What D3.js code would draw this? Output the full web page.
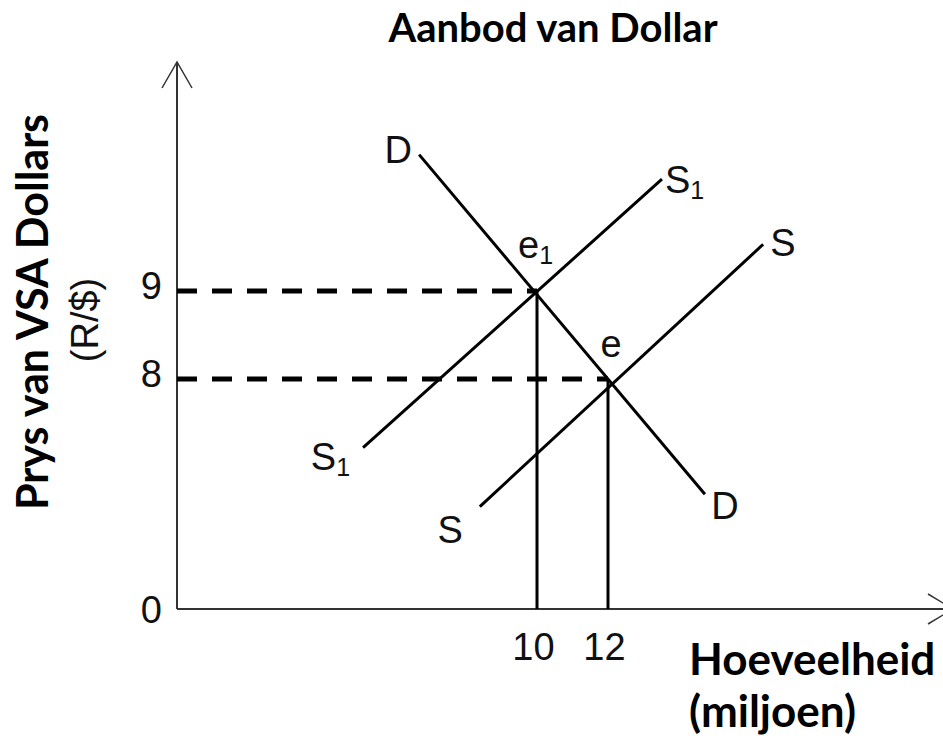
<!DOCTYPE html>
<html>
<head>
<meta charset="utf-8">
<script src="https://cdn.jsdelivr.net/npm/d3@7"></script>
<style>
  body { margin: 0; background: #fff; }
  .lbl { font-family: "Liberation Sans", Arial, sans-serif; font-size: 38px; fill: #111; }
  .ttl { font-family: Lato, "Open Sans", sans-serif; font-weight: 700; fill: #000; }
</style>
</head>
<body>
<div id="chart"></div>
<script>
// Values (price in R/$, quantity in millions)
var priceTicks = [8, 9];
var qtyTicks = [10, 12];
var demand = [{q: 6.68, p: 10.55}, {q: 14.73, p: 6.69}];
var supply1 = [{q: 5.10, p: 7.22}, {q: 13.52, p: 10.27}];
var supply = [{q: 8.39, p: 6.55}, {q: 16.37, p: 9.53}];
var equilibria = [{name: "e", sub: "1", q: 10, p: 9}, {name: "e", sub: "", q: 12, p: 8}];

var width = 943, height = 740;
var origin = {x: 177, y: 609};   // schematic origin (axis break)

var x = d3.scaleLinear().domain([10, 12]).range([537, 608]);
var y = d3.scaleLinear().domain([8, 9]).range([379, 291]);

var svg = d3.select("#chart").append("svg")
    .attr("width", width)
    .attr("height", height);

// axes with open arrow heads
var axes = svg.append("g").attr("stroke", "#333").attr("fill", "none");
axes.append("line")
    .attr("x1", origin.x).attr("y1", origin.y)
    .attr("x2", origin.x).attr("y2", 62)
    .attr("stroke-width", 2);
axes.append("path")
    .attr("d", "M" + (origin.x - 15) + ",88L" + origin.x + ",62L" + (origin.x + 15) + ",88")
    .attr("stroke-width", 1.5);
axes.append("line")
    .attr("x1", origin.x).attr("y1", origin.y)
    .attr("x2", 953).attr("y2", origin.y)
    .attr("stroke-width", 2);
axes.append("path")
    .attr("d", "M928," + (origin.y - 15) + "L953," + origin.y + "L928," + (origin.y + 15))
    .attr("stroke-width", 1.5);

// tick labels
var yAxis = svg.append("g")
    .attr("transform", "translate(" + origin.x + ",0)")
    .call(d3.axisLeft(y).tickValues(priceTicks).tickFormat(d3.format("d"))
        .tickSize(0).tickPadding(15));
var xAxis = svg.append("g")
    .attr("transform", "translate(0," + origin.y + ")")
    .call(d3.axisBottom(x).tickValues(qtyTicks).tickFormat(d3.format("d"))
        .tickSize(0).tickPadding(24));
[yAxis, xAxis].forEach(function(a) {
    a.select(".domain").remove();
    a.selectAll("text")
        .attr("class", "lbl")
        .attr("font-family", null).attr("font-size", null)
        .attr("fill", null);
});
yAxis.selectAll("text").attr("dy", "0.2em");
xAxis.selectAll("text").attr("dx", "-4");

svg.append("text")
    .attr("class", "lbl")
    .attr("x", origin.x - 15)
    .attr("y", origin.y + 14)
    .attr("text-anchor", "end")
    .text("0");

// dashed guides from the price axis, solid drops to the quantity axis
svg.selectAll(".guide")
    .data(equilibria)
    .enter().append("line")
        .attr("class", "guide")
        .attr("x1", origin.x)
        .attr("x2", function(d) { return x(d.q); })
        .attr("y1", function(d) { return y(d.p); })
        .attr("y2", function(d) { return y(d.p); })
        .attr("stroke", "#000")
        .attr("stroke-width", 5)
        .attr("stroke-dasharray", "20,15");

svg.selectAll(".drop")
    .data(equilibria)
    .enter().append("line")
        .attr("class", "drop")
        .attr("x1", function(d) { return x(d.q); })
        .attr("x2", function(d) { return x(d.q); })
        .attr("y1", function(d) { return y(d.p); })
        .attr("y2", origin.y)
        .attr("stroke", "#000")
        .attr("stroke-width", 3);

// curves
var line = d3.line()
    .x(function(d) { return x(d.q); })
    .y(function(d) { return y(d.p); });

var curves = [
    {pts: demand, start: {t: "D", sub: "", dx: -21, dy: 8, anchor: "middle"},
                  end: {t: "D", sub: "", dx: 20, dy: 25, anchor: "middle"}},
    {pts: supply1, start: {t: "S", sub: "1", dx: -13, dy: 22, anchor: "end"},
                   end: {t: "S", sub: "1", dx: 3, dy: 14, anchor: "start"}},
    {pts: supply, start: {t: "S", sub: "", dx: -17, dy: 36, anchor: "end"},
                  end: {t: "S", sub: "", dx: 7, dy: 12, anchor: "start"}}
];

svg.selectAll(".curve")
    .data(curves)
    .enter().append("path")
        .attr("class", "curve")
        .attr("d", function(d) { return line(d.pts); })
        .attr("fill", "none")
        .attr("stroke", "#000")
        .attr("stroke-width", 3);

function addLabel(px, py, l) {
    var t = svg.append("text")
        .attr("class", "lbl")
        .attr("x", px + l.dx)
        .attr("y", py + l.dy)
        .attr("text-anchor", l.anchor);
    t.append("tspan").text(l.t);
    if (l.sub) {
        t.append("tspan")
            .attr("font-size", "25px")
            .attr("dy", 6)
            .text(l.sub);
    }
}

curves.forEach(function(c) {
    var a = c.pts[0], b = c.pts[c.pts.length - 1];
    addLabel(x(a.q), y(a.p), c.start);
    addLabel(x(b.q), y(b.p), c.end);
});

var eqOffsets = [{dx: -19, dy: -33, anchor: "start"}, {dx: 3, dy: -22, anchor: "middle"}];
equilibria.forEach(function(d, i) {
    var o = eqOffsets[i];
    addLabel(x(d.q), y(d.p), {t: d.name, sub: d.sub, dx: o.dx, dy: o.dy, anchor: o.anchor});
});

// titles
svg.append("text")
    .attr("class", "ttl")
    .attr("x", 553)
    .attr("y", 42)
    .attr("text-anchor", "middle")
    .attr("font-size", "40px")
    .text("Aanbod van Dollar");

svg.append("text")
    .attr("class", "ttl")
    .attr("transform", "translate(48,312)rotate(-90)")
    .attr("text-anchor", "middle")
    .attr("font-size", "43px")
    .text("Prys van VSA Dollars");

svg.append("text")
    .attr("class", "lbl")
    .attr("transform", "translate(98,320)rotate(-90)")
    .attr("text-anchor", "middle")
    .attr("font-size", "30px")
    .attr("fill", "#444")
    .text("(R/$)");

svg.append("text")
    .attr("class", "ttl")
    .attr("x", 689)
    .attr("y", 675)
    .attr("font-size", "44px")
    .text("Hoeveelheid");

svg.append("text")
    .attr("class", "ttl")
    .attr("x", 689)
    .attr("y", 727)
    .attr("font-size", "44px")
    .text("(miljoen)");
</script>
</body>
</html>
